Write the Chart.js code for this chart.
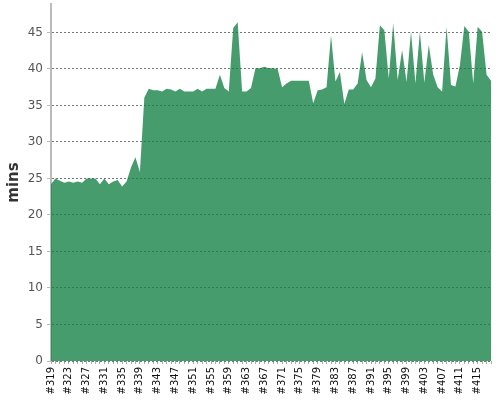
<!DOCTYPE html>
<html>
<head>
<meta charset="utf-8">
<script src="https://cdn.jsdelivr.net/npm/chart.js@4/dist/chart.umd.min.js"></script>
<style>
  html, body { margin: 0; padding: 0; background: #fff; }
  #wrap { width: 500px; height: 400px; }
</style>
</head>
<body>
<div id="wrap"><canvas id="minsChart"></canvas></div>
<script>
// build ids #319 .. #418
const firstBuild = 319;
const lastBuild = 418;
const buildLabels = [];
for (let n = firstBuild; n <= lastBuild; n++) buildLabels.push('#' + n);

const minsValues = [
    24.2, 25.0, 24.7, 24.4, 24.6, 24.4, 24.6, 24.4, 25.0, 25.0,
    25.0, 24.2, 25.0, 24.2, 24.6, 24.8, 23.9, 24.6, 26.5, 27.9,
    25.9, 36.1, 37.3, 37.1, 37.1, 36.9, 37.3, 37.2, 36.9, 37.3,
    36.9, 36.9, 36.9, 37.3, 36.9, 37.3, 37.3, 37.3, 39.2, 37.4,
    36.9, 45.6, 46.4, 36.9, 36.9, 37.4, 40.1, 40.1, 40.3, 40.1,
    40.1, 40.0, 37.5, 38.0, 38.4, 38.4, 38.4, 38.4, 38.4, 35.3,
    37.1, 37.2, 37.5, 44.6, 38.3, 39.6, 35.2, 37.2, 37.2, 38.0,
    42.3, 38.5, 37.5, 38.7, 46.0, 45.3, 38.7, 46.3, 38.5, 42.6,
    38.2, 45.1, 38.0, 45.1, 38.1, 43.3, 39.2, 37.5, 36.9, 45.8,
    37.8, 37.6, 40.5, 45.9, 45.1, 38.0, 45.8, 45.1, 39.2, 38.4
];

const yMax = 48.9;
const yStep = 5;
const labelEvery = 4;

const ctx = document.getElementById('minsChart').getContext('2d');
new Chart(ctx, {
    type: 'line',
    data: {
        labels: buildLabels,
        datasets: [{
            label: 'mins',
            data: minsValues,
            backgroundColor: 'rgba(18, 128, 68, 0.78)',
            borderWidth: 0,
            pointRadius: 0,
            tension: 0,
            fill: 'origin'
        }]
    },
    options: {
        responsive: true,
        maintainAspectRatio: false,
        animation: false,
        layout: { padding: { top: 4, right: 9, left: 0, bottom: 0 } },
        plugins: {
            legend: { display: false },
            tooltip: { enabled: false }
        },
        scales: {
            x: {
                offset: false,
                afterFit: s => {
                    s.height = 39;
                    s.paddingLeft = 0;
                    s.paddingRight = 0;
                },
                grid: {
                    drawOnChartArea: false,
                    tickLength: 3,
                    tickColor: '#aaa'
                },
                border: { display: false },
                ticks: {
                    autoSkip: false,
                    minRotation: 90,
                    maxRotation: 90,
                    padding: 3,
                    color: '#111',
                    font: { family: 'DejaVu Sans', size: 10 },
                    callback: (v, i) => i % labelEvery === 0 ? buildLabels[i] : ''
                }
            },
            y: {
                min: 0,
                max: yMax,
                afterFit: s => {
                    s.width = 51;
                    s.paddingTop = 0;
                    s.paddingBottom = 0;
                },
                border: { display: true, color: '#bbb', width: 2, dash: [2, 2] },
                grid: {
                    color: '#777',
                    tickColor: '#bbb',
                    tickLength: 4,
                    tickBorderDash: []
                },
                ticks: {
                    stepSize: yStep,
                    includeBounds: false,
                    padding: 4,
                    color: '#555',
                    font: { family: 'DejaVu Sans', size: 12 }
                },
                title: {
                    display: true,
                    text: 'mins',
                    color: '#333',
                    font: { family: 'DejaVu Sans', size: 15, weight: 'bold' },
                    padding: { top: 5, bottom: 0 }
                }
            }
        }
    }
});
</script>
</body>
</html>
